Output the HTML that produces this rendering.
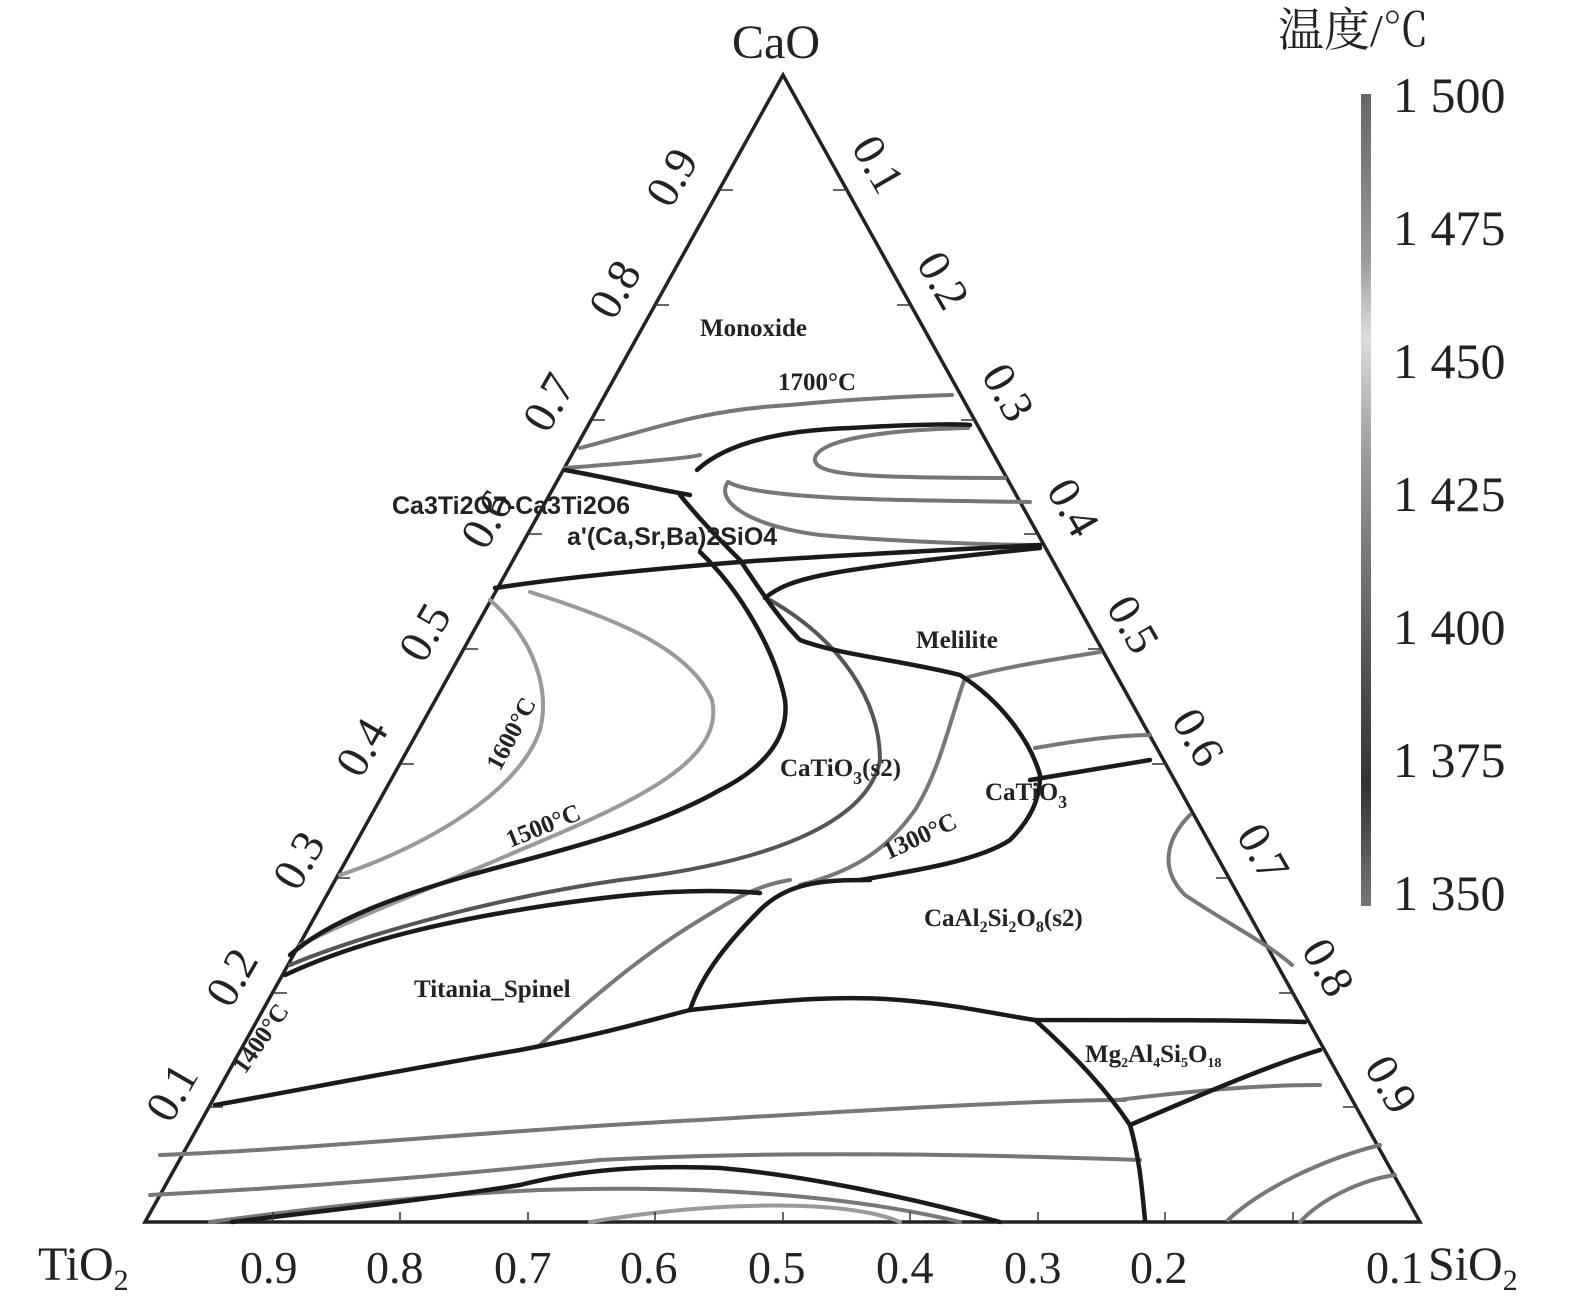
<!DOCTYPE html>
<html><head><meta charset="utf-8"><style>
html,body{margin:0;padding:0;background:#fff;}
svg{display:block;}
text{font-family:"Liberation Serif","Noto Serif CJK SC",serif;fill:#222;}
.b{font-weight:bold;font-size:25px;}
</style></head><body>
<svg width="1575" height="1315" viewBox="0 0 1575 1315" xmlns="http://www.w3.org/2000/svg">
<defs><linearGradient id="cb" x1="0" y1="0" x2="0" y2="1">
<stop offset="0" stop-color="#666"/><stop offset="0.2" stop-color="#999"/><stop offset="0.3" stop-color="#ddd"/><stop offset="0.45" stop-color="#999"/><stop offset="0.7" stop-color="#555"/><stop offset="0.85" stop-color="#333"/><stop offset="1" stop-color="#777"/></linearGradient></defs>
<path d="M783,75 L145,1222 L1420,1222 Z" fill="none" stroke="#222" stroke-width="3.5"/>
<g fill="none" stroke-linecap="round" stroke-linejoin="round">
<g stroke="#777" stroke-width="4">
<path d="M580,448 C650,430 700,410 790,405 C860,398 920,396 952,395"/>
<path d="M565,468 C640,462 690,458 700,455"/>
<path d="M968,428 C880,430 820,440 815,458 C812,475 860,478 1005,478"/>
<path d="M1030,502 C900,500 760,500 728,482 C715,500 745,525 820,535 C900,542 1000,545 1040,545"/>
<path d="M1100,652 C1050,660 1000,668 965,678 C950,720 940,770 915,810 C890,845 860,870 800,885"/>
<path d="M1035,748 C1080,740 1120,735 1150,735"/>
<path d="M540,1045 C600,990 650,950 700,920 C740,895 760,885 790,880"/>
<path d="M1190,815 C1165,840 1160,870 1185,895 C1230,925 1270,945 1292,965"/>
<path d="M1118,1100 C1200,1090 1260,1085 1320,1085"/>
<path d="M160,1155 C300,1150 500,1130 700,1120 C900,1108 1050,1100 1125,1100"/>
<path d="M150,1195 C350,1185 500,1170 600,1160 C700,1155 850,1150 1140,1160"/>
<path d="M1228,1220 C1260,1190 1320,1160 1380,1145"/>
<path d="M1300,1222 C1320,1200 1360,1180 1395,1175"/>
<path d="M210,1222 C300,1210 420,1195 540,1190 C700,1185 850,1195 960,1222"/>
</g>
<g stroke="#999" stroke-width="4">
<path d="M490,600 C535,640 550,690 540,730 C520,790 430,845 340,875"/>
<path d="M530,592 C620,620 690,650 712,700 C725,760 640,800 520,850 C440,885 360,915 300,945"/>
<path d="M590,1222 C720,1200 850,1200 900,1222"/>
</g>
<g stroke="#555" stroke-width="4">
<path d="M770,600 C840,640 880,700 880,760 C870,815 790,860 620,880 C480,900 350,940 290,965"/>
</g>
<g stroke="#1a1a1a" stroke-width="4.5">
<path d="M697,470 C730,440 790,430 850,428 C920,424 960,424 970,425"/>
<path d="M565,470 C610,478 650,488 690,495"/>
<path d="M495,588 C560,578 640,570 740,562 C820,556 950,550 1040,545"/>
<path d="M680,495 C700,520 720,540 740,560 C760,590 780,620 800,640 C840,655 900,660 960,675 C1000,700 1030,740 1040,775 C1040,800 1030,820 1010,840 C980,860 920,870 860,880"/>
<path d="M765,598 C790,578 820,570 1040,548"/>
<path d="M700,552 C740,590 775,650 785,700 C790,740 760,770 720,790 C650,830 560,850 470,875 C400,895 330,920 290,955"/>
<path d="M1030,780 C1080,772 1120,765 1150,760"/>
<path d="M285,975 C360,940 450,920 550,905 C640,892 700,888 760,893"/>
<path d="M690,1010 C700,980 720,950 760,910 C790,880 830,880 870,880"/>
<path d="M690,1010 C780,1000 840,995 900,1000 C960,1005 1000,1015 1035,1020 C1150,1020 1250,1020 1305,1022"/>
<path d="M215,1105 C300,1090 400,1070 520,1050 C600,1035 650,1020 690,1010"/>
<path d="M1035,1020 C1080,1060 1110,1095 1130,1125 C1140,1160 1142,1190 1145,1220"/>
<path d="M1130,1125 C1200,1095 1270,1065 1320,1050"/>
<path d="M232,1222 C330,1210 440,1198 520,1185 C580,1170 640,1165 720,1168 C800,1175 900,1195 1000,1222"/>
</g>
</g>
<g stroke="#333" stroke-width="1.5" fill="none">
<path d="M719,190 l14,0 M655,305 l14,0 M591,420 l14,0 M528,534 l14,0 M464,649 l14,0 M400,764 l14,0 M336,878 l14,0 M273,993 l14,0 M209,1107 l14,0"/>
<path d="M847,190 l-14,0 M911,305 l-14,0 M975,420 l-14,0 M1038,534 l-14,0 M1102,649 l-14,0 M1166,764 l-14,0 M1230,878 l-14,0 M1293,993 l-14,0 M1357,1107 l-14,0"/>
<path d="M273,1222 l0,-10 M400,1222 l0,-10 M528,1222 l0,-10 M655,1222 l0,-10 M783,1222 l0,-10 M910,1222 l0,-10 M1038,1222 l0,-10 M1165,1222 l0,-10 M1293,1222 l0,-10"/>
</g>
<g font-size="48">
<text x="732" y="58">CaO</text>
<text x="38" y="1280">TiO<tspan font-size="30" dy="10">2</tspan></text>
<text x="1428" y="1280">SiO<tspan font-size="30" dy="10">2</tspan></text>
</g>
<g font-size="46">
<text x="240" y="1283">0.9</text><text x="366" y="1283">0.8</text><text x="494" y="1283">0.7</text><text x="620" y="1283">0.6</text><text x="748" y="1283">0.5</text><text x="876" y="1283">0.4</text><text x="1004" y="1283">0.3</text><text x="1130" y="1283">0.2</text><text x="1366" y="1283">0.1</text>
<text transform="translate(685,185) rotate(-60)" text-anchor="middle">0.9</text>
<text transform="translate(628,297) rotate(-60)" text-anchor="middle">0.8</text>
<text transform="translate(562,410) rotate(-60)" text-anchor="middle">0.7</text>
<text transform="translate(500,527) rotate(-60)" text-anchor="middle">0.6</text>
<text transform="translate(438,640) rotate(-60)" text-anchor="middle">0.5</text>
<text transform="translate(375,755) rotate(-60)" text-anchor="middle">0.4</text>
<text transform="translate(312,868) rotate(-60)" text-anchor="middle">0.3</text>
<text transform="translate(245,985) rotate(-60)" text-anchor="middle">0.2</text>
<text transform="translate(185,1100) rotate(-60)" text-anchor="middle">0.1</text>
<text transform="translate(865,172) rotate(60)" text-anchor="middle">0.1</text>
<text transform="translate(930,288) rotate(60)" text-anchor="middle">0.2</text>
<text transform="translate(995,400) rotate(60)" text-anchor="middle">0.3</text>
<text transform="translate(1060,515) rotate(60)" text-anchor="middle">0.4</text>
<text transform="translate(1120,632) rotate(60)" text-anchor="middle">0.5</text>
<text transform="translate(1185,745) rotate(60)" text-anchor="middle">0.6</text>
<text transform="translate(1250,860) rotate(60)" text-anchor="middle">0.7</text>
<text transform="translate(1315,975) rotate(60)" text-anchor="middle">0.8</text>
<text transform="translate(1378,1092) rotate(60)" text-anchor="middle">0.9</text>
</g>
<text class="b" x="700" y="336" font-size="23">Monoxide</text>
<text class="b" x="778" y="390" font-size="20">1700°C</text>
<text class="b" x="392" y="514" font-size="24" style="font-family:'Liberation Sans',sans-serif">Ca3Ti2O7-Ca3Ti2O6</text>
<text class="b" x="567" y="545" font-size="24" style="font-family:'Liberation Sans',sans-serif">a'(Ca,Sr,Ba)2SiO4</text>
<text class="b" x="916" y="648" font-size="28">Melilite</text>
<text class="b" x="780" y="776" font-size="28">CaTiO<tspan font-size="18" dy="8">3</tspan><tspan dy="-8">(s2)</tspan></text>
<text class="b" x="985" y="800" font-size="28">CaTiO<tspan font-size="18" dy="8">3</tspan></text>
<text class="b" x="924" y="926" font-size="26">CaAl<tspan font-size="16" dy="6">2</tspan><tspan dy="-6">Si</tspan><tspan font-size="16" dy="6">2</tspan><tspan dy="-6">O</tspan><tspan font-size="16" dy="6">8</tspan><tspan dy="-6">(s2)</tspan></text>
<text class="b" x="414" y="997" font-size="23">Titania_Spinel</text>
<text class="b" x="1085" y="1062" font-size="21">Mg<tspan font-size="14" dy="5">2</tspan><tspan dy="-5">Al</tspan><tspan font-size="14" dy="5">4</tspan><tspan dy="-5">Si</tspan><tspan font-size="14" dy="5">5</tspan><tspan dy="-5">O</tspan><tspan font-size="14" dy="5">18</tspan></text>
<text class="b" transform="translate(500,772) rotate(-62)" font-size="20">1600°C</text>
<text class="b" transform="translate(510,848) rotate(-22)" font-size="20">1500°C</text>
<text class="b" transform="translate(888,860) rotate(-25)" font-size="20">1300°C</text>
<text class="b" transform="translate(245,1075) rotate(-55)" font-size="19">1400°C</text>
<rect x="1361" y="94" width="10" height="812" fill="url(#cb)"/>
<text x="1278" y="46" font-size="46">温度/℃</text>
<g font-size="50">
<text x="1393" y="112">1 500</text>
<text x="1393" y="245">1 475</text>
<text x="1393" y="378">1 450</text>
<text x="1393" y="511">1 425</text>
<text x="1393" y="644">1 400</text>
<text x="1393" y="777">1 375</text>
<text x="1393" y="910">1 350</text>
</g>
</svg>
</body></html>
